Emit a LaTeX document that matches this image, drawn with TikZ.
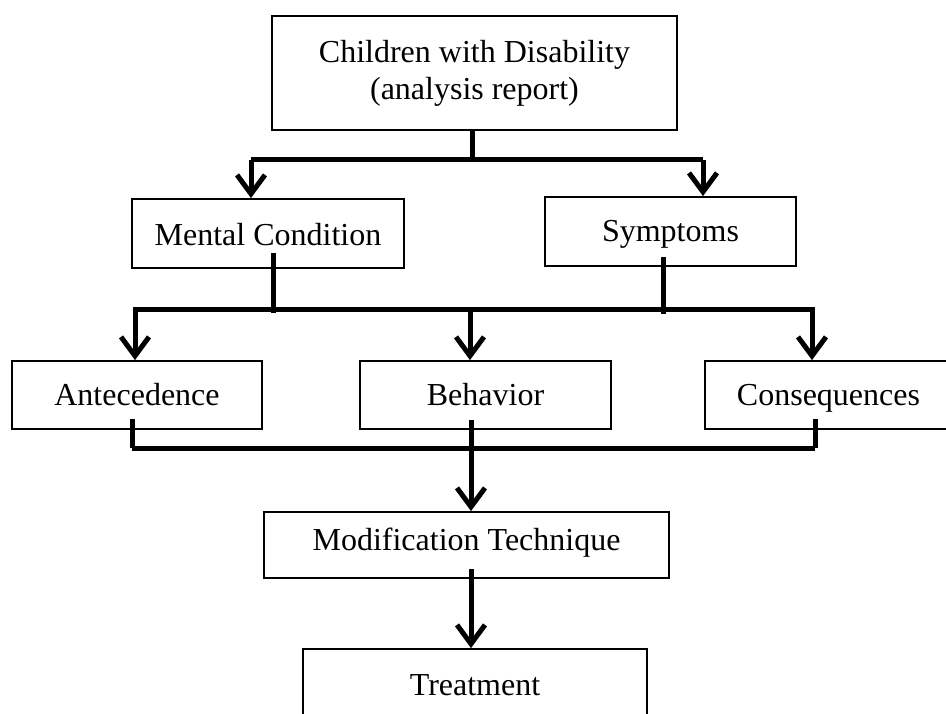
\documentclass[tikz,border=0pt]{standalone}
\usepackage{fontspec}
\setmainfont{Liberation Serif}
\usetikzlibrary{arrows.meta}
\tikzset{
  box/.style={draw=black, line width=1.8pt, fill=white, rectangle, inner sep=0pt, align=center,
              font=\fontsize{32}{37}\selectfont, text height=22pt, text depth=6pt},
  conn/.style={draw=black, line width=5pt},
  arr/.style={conn, -{Straight Barb[length=19pt, width=28pt, line cap=butt]}},
}
\begin{document}
\begin{tikzpicture}[x=1pt, y=-1pt]
\useasboundingbox (0,0) rectangle (946,714);
\clip (0,0) rectangle (946,714);
\fill[white] (0,0) rectangle (946,714);

% nodes
\node[box, text height=, text depth=, minimum width=405pt, minimum height=114pt] (top) at (474.5,73)
  {Children with Disability\\(analysis report)};
\node[box, text height=25pt, text depth=0pt, minimum width=272pt, minimum height=69pt] (mental) at (268,233.5) {Mental Condition};
\node[box, text height=25pt, text depth=4pt, minimum width=251pt, minimum height=69pt] (sympt) at (670.5,231.5) {Symptoms};
\node[box, text depth=2pt, minimum width=250pt, minimum height=68pt] (ante) at (137,395) {Antecedence};
\node[box, text depth=2pt, minimum width=251pt, minimum height=68pt] (behav) at (485.5,395) {Behavior};
\node[box, text depth=2pt, minimum width=247pt, minimum height=68pt] (conseq) at (828.5,395) {Consequences};
\node[box, text depth=12pt, minimum width=405pt, minimum height=66pt] (modif) at (466.5,545) {Modification Technique};
\node[box, text height=24pt, text depth=4pt, minimum width=344pt, minimum height=72pt] (treat) at (475,685) {Treatment};

% bus coordinates
\coordinate (b1) at (472,160);
\coordinate (b1l) at (251,160);
\coordinate (b1r) at (703,160);
\coordinate (b2l) at (133,310);
\coordinate (b2r) at (815,310);
\coordinate (b3l) at (132,448);
\coordinate (b3r) at (815,448);

% top to second row
\draw[conn] (top.south -| b1) -- (b1);
\draw[conn] (b1l) -- (b1r);
\draw[arr] (b1l) -- (b1l |- mental.north);
\draw[arr] (b1r) -- (b1r |- sympt.north);

% second row to third row
\draw[conn] (273,253) -- (273,313);
\draw[conn] (663,257) -- (663,314);
\draw[conn] (b2l) -- (b2r);
\draw[arr] (135,310) -- (135,0 |- ante.north);
\draw[arr] (470,310) -- (470,0 |- behav.north);
\draw[arr] (812,310) -- (812,0 |- conseq.north);

% third row to modification
\draw[conn] (132,419) -- (b3l);
\draw[conn] (815,419) -- (b3r);
\draw[conn] (b3l) -- (b3r);
\draw[arr] (471,420) -- (471,0 |- modif.north);

% modification to treatment
\draw[arr] (471,569) -- (471,0 |- treat.north);
\end{tikzpicture}
\end{document}
